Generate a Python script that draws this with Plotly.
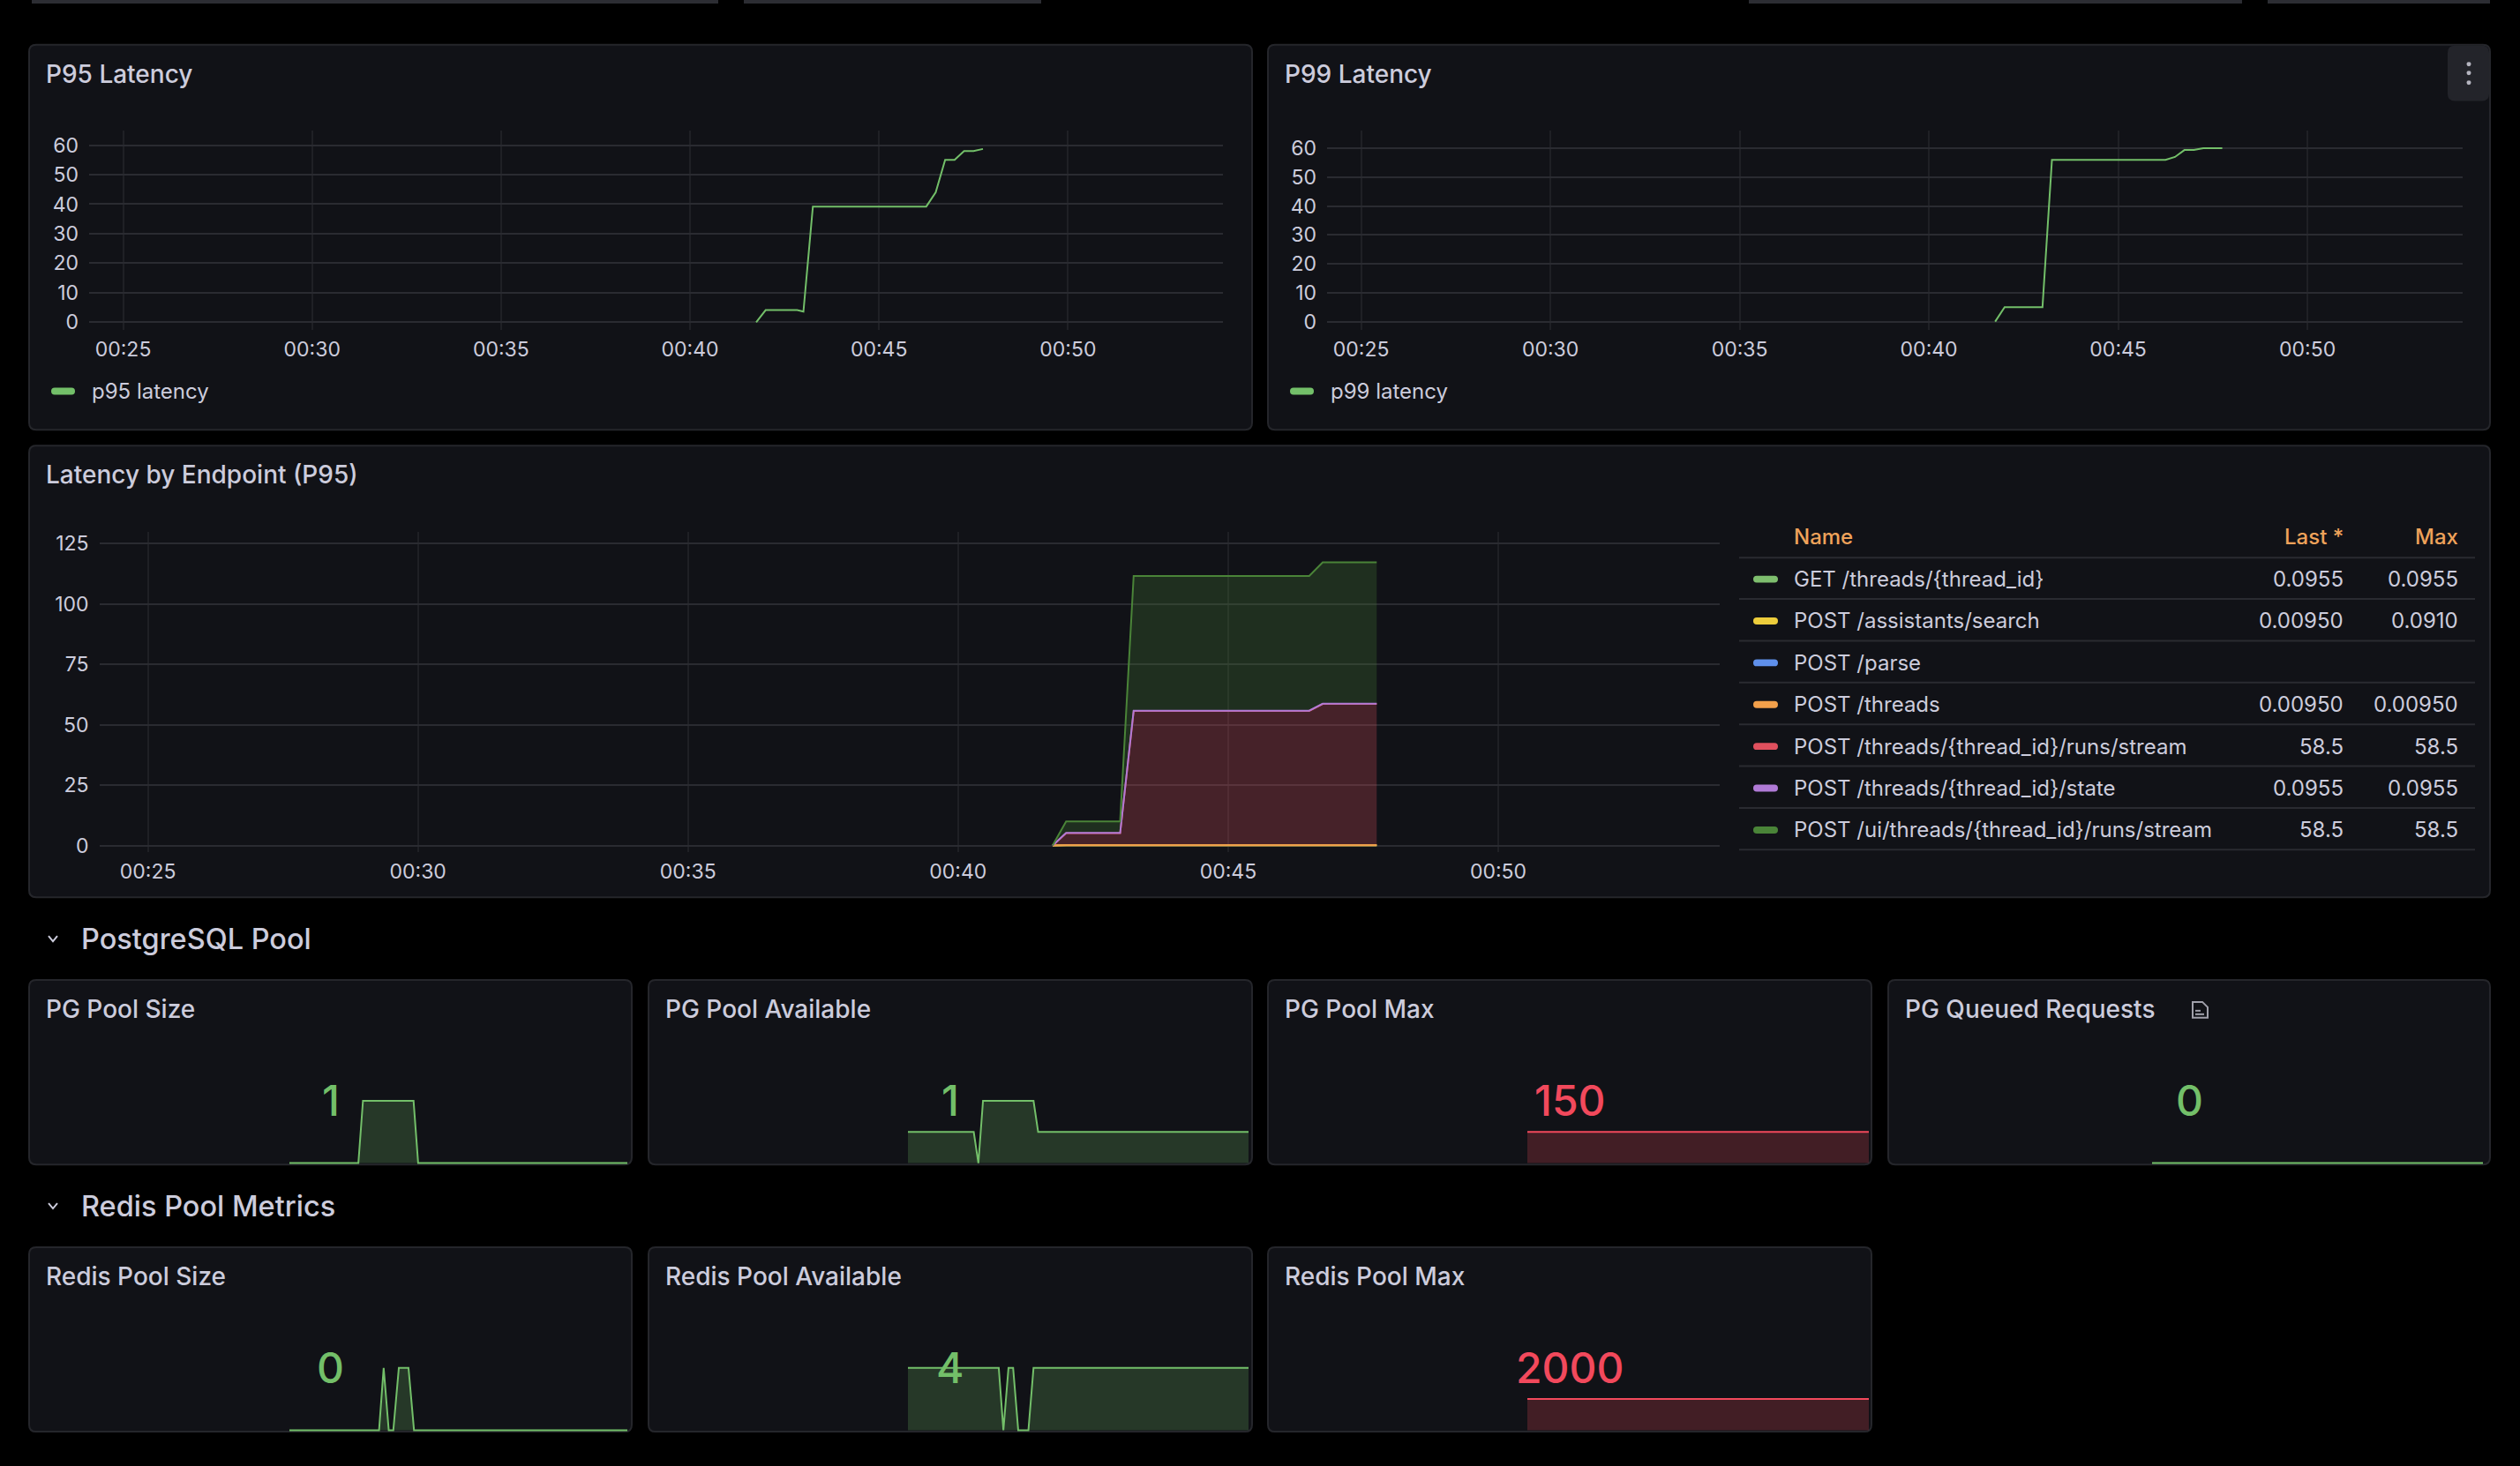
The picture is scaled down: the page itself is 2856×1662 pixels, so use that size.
import plotly.graph_objects as go

W, H = 2856, 1662
DAY = "2025-01-01 "
FONT = "Inter"
TEXT = "#ccccdc"
PANEL = "#111217"
BORDER = "#25262b"
GRID_H = "#2a2b31"
GRID_V = "#1f2025"
GREEN = "#73BF69"
RED = "#F2495C"

# ---- data ----
X_RANGE = ["00:24:06", "00:54:06"]

p95_time = ["00:41:45", "00:42:00", "00:42:50", "00:43:00", "00:43:15", "00:46:15",
            "00:46:30", "00:46:45", "00:47:00", "00:47:15", "00:47:30", "00:47:45"]
p95_value = [0, 4.1, 4.1, 3.6, 39.2, 39.2, 44, 55, 55, 58, 58, 58.7]

p99_time = ["00:41:45", "00:42:00", "00:43:00", "00:43:15", "00:46:15", "00:46:30",
            "00:46:45", "00:47:00", "00:47:15", "00:47:45"]
p99_value = [0, 5, 5, 56, 56, 57, 59.4, 59.4, 60, 60]

ep_time = ["00:41:45", "00:42:00", "00:43:00", "00:43:15", "00:46:30", "00:46:45", "00:47:45"]
ep_names = ["GET /threads/{thread_id}", "POST /assistants/search", "POST /parse", "POST /threads",
            "POST /threads/{thread_id}/runs/stream", "POST /threads/{thread_id}/state",
            "POST /ui/threads/{thread_id}/runs/stream"]
ep_colors = ["#7EBE6E", "#EDCD3C", "#5F90EC", "#F3A04B", "#E0505E", "#B07AD6", "#4A8438"]
ep_last = ["0.0955", "0.00950", "", "0.00950", "58.5", "0.0955", "58.5"]
ep_max = ["0.0955", "0.0910", "", "0.00950", "58.5", "0.0955", "58.5"]
ep_values = [
    [0, 0.0955, 0.0955, 0.0955, 0.0955, 0.0955, 0.0955],
    [0, 0.0095, 0.0095, 0.0095, 0.0095, 0.0095, 0.0095],
    None,
    [0, 0.0095, 0.0095, 0.0095, 0.0095, 0.0095, 0.0095],
    [0, 5.0, 5.0, 55.6, 55.6, 58.5, 58.5],
    [0, 0.0955, 0.0955, 0.0955, 0.0955, 0.0955, 0.0955],
    [0, 4.8, 4.8, 55.8, 55.8, 58.5, 58.5],
]

SPARK_RANGE = ["00:41:45", "00:54:00"]
pg_size_time = ["00:41:45", "00:44:15", "00:44:25", "00:46:15", "00:46:25", "00:54:00"]
pg_size_value = [0, 0, 1, 1, 0, 0]
pg_avail_time = ["00:41:45", "00:44:07", "00:44:17", "00:44:27", "00:46:16", "00:46:26", "00:54:00"]
pg_avail_value = [0.5, 0.5, 0, 1, 1, 0.5, 0.5]
pg_max_time = ["00:41:45", "00:54:00"]
pg_max_value = [150, 150]
pg_queued_time = ["00:41:45", "00:54:00"]
pg_queued_value = [0, 0]
redis_size_time = ["00:41:45", "00:45:00", "00:45:10", "00:45:21", "00:45:31", "00:45:43",
                   "00:46:04", "00:46:16", "00:54:00"]
redis_size_value = [0, 0, 1, 0, 0, 1, 1, 0, 0]
redis_avail_time = ["00:41:45", "00:45:01", "00:45:11", "00:45:22", "00:45:32", "00:45:43",
                    "00:46:05", "00:46:16", "00:54:00"]
redis_avail_value = [4, 4, 0, 4, 4, 0, 0, 4, 4]
redis_max_time = ["00:41:45", "00:54:00"]
redis_max_value = [2000, 2000]

stat_titles = ["PG Pool Size", "PG Pool Available", "PG Pool Max", "PG Queued Requests",
               "Redis Pool Size", "Redis Pool Available", "Redis Pool Max"]
stat_values = ["1", "1", "150", "0", "0", "4", "2000"]
stat_colors = [GREEN, GREEN, RED, GREEN, GREEN, GREEN, RED]
stat_top = [1, 1, 300, 1, 1, 4, 4000]  # value drawn at the top of each sparkline
stat_series = [(pg_size_time, pg_size_value), (pg_avail_time, pg_avail_value),
               (pg_max_time, pg_max_value), (pg_queued_time, pg_queued_value),
               (redis_size_time, redis_size_value), (redis_avail_time, redis_avail_value),
               (redis_max_time, redis_max_value)]


def X(px):
    return px / W


def Y(py):
    return 1 - py / H


def t(s):
    return DAY + s


def rgba(hex_color, a):
    h = hex_color.lstrip("#")
    return f"rgba({int(h[0:2], 16)},{int(h[2:4], 16)},{int(h[4:6], 16)},{a})"


def rrect(x0, y0, x1, y1, r):
    return (f"M {X(x0 + r)},{Y(y0)} L {X(x1 - r)},{Y(y0)} Q {X(x1)},{Y(y0)} {X(x1)},{Y(y0 + r)} "
            f"L {X(x1)},{Y(y1 - r)} Q {X(x1)},{Y(y1)} {X(x1 - r)},{Y(y1)} "
            f"L {X(x0 + r)},{Y(y1)} Q {X(x0)},{Y(y1)} {X(x0)},{Y(y1 - r)} "
            f"L {X(x0)},{Y(y0 + r)} Q {X(x0)},{Y(y0)} {X(x0 + r)},{Y(y0)} Z")


def label(x, y, text, size=24, color=TEXT, anchor="left", weight=400):
    return dict(x=X(x), y=Y(y), xref="paper", yref="paper", text=text, showarrow=False,
                xanchor=anchor, yanchor="middle",
                font=dict(family=FONT, size=size, color=color, weight=weight))


shapes = []
annotations = []

# thin bits of the controls above the panels
for x0, x1 in [(36, 814), (843, 1180), (1982, 2541), (2570, 2822)]:
    shapes.append(dict(type="rect", xref="paper", yref="paper", x0=X(x0), x1=X(x1), y0=Y(4), y1=Y(0),
                       fillcolor="#2c2d33", line_width=0, layer="below"))

# panels
panels = [(33, 51, 1419, 489, "P95 Latency"), (1437, 51, 2822, 489, "P99 Latency"),
          (33, 507, 2822, 1021, "Latency by Endpoint (P95)")]
stat_boxes = [(33, 1115, 716, 1325), (735, 1115, 1419, 1325), (1437, 1115, 2121, 1325),
              (2140, 1115, 2822, 1325), (33, 1419, 716, 1629), (735, 1419, 1419, 1629),
              (1437, 1419, 2121, 1629)]
for i, b in enumerate(stat_boxes):
    panels.append(b + (stat_titles[i],))

for x0, y0, x1, y1, title in panels:
    shapes.append(dict(type="path", xref="paper", yref="paper", path=rrect(x0, y0, x1, y1, 8),
                       fillcolor=PANEL, line=dict(color=BORDER, width=2), layer="below"))
    annotations.append(label(x0 + 17, y0 + 33, title, size=28, weight=500))

# P99 menu button
shapes.append(dict(type="path", xref="paper", yref="paper", path=rrect(2774, 52, 2821, 115, 8),
                   fillcolor="#23242a", line_width=0, layer="below"))
for dy in [73, 83, 94]:
    shapes.append(dict(type="circle", xref="paper", yref="paper", x0=X(2795.5), x1=X(2800.5),
                       y0=Y(dy + 2.5), y1=Y(dy - 2.5), fillcolor="#b5b5c0", line_width=0))

# description icon next to PG Queued Requests
shapes.append(dict(type="path", xref="paper", yref="paper",
                   path=(f"M {X(2485)},{Y(1140)} L {X(2496)},{Y(1140)} L {X(2502)},{Y(1146)} "
                         f"L {X(2502)},{Y(1158)} L {X(2485)},{Y(1158)} Z"),
                   line=dict(color="#a0a0aa", width=2)))
for yy, xe in [(1150, 2494), (1154, 2498)]:
    shapes.append(dict(type="line", xref="paper", yref="paper", x0=X(2488), x1=X(xe), y0=Y(yy), y1=Y(yy),
                       line=dict(color="#a0a0aa", width=2)))

# row headers
for y, text in [(1068, "PostgreSQL Pool"), (1372, "Redis Pool Metrics")]:
    shapes.append(dict(type="path", xref="paper", yref="paper",
                       path=f"M {X(55)},{Y(y - 3)} L {X(60)},{Y(y + 3)} L {X(65)},{Y(y - 3)}",
                       line=dict(color=TEXT, width=2)))
    annotations.append(label(90, y, text, size=32.5, weight=500))

# legends of the two latency panels
for x0, text in [(58, "p95 latency"), (1462, "p99 latency")]:
    shapes.append(dict(type="path", xref="paper", yref="paper", path=rrect(x0, 441, x0 + 27, 449, 4),
                       fillcolor=GREEN, line_width=0))
    annotations.append(label(x0 + 44, 445, text))

# legend table of the endpoint panel
row0, row_h = 659, 47.55
annotations.append(label(2031, 611, "Name", color="#EFA25A", weight=500))
annotations.append(label(2658, 611, "Last *", color="#EFA25A", anchor="right", weight=500))
annotations.append(label(2788, 611, "Max", color="#EFA25A", anchor="right", weight=500))
shapes.append(dict(type="line", xref="paper", yref="paper", x0=X(1971), x1=X(2805), y0=Y(634.5), y1=Y(634.5),
                   line=dict(color="#2a2b31", width=2)))
for i, name in enumerate(ep_names):
    yc = row0 + i * row_h
    shapes.append(dict(type="path", xref="paper", yref="paper", path=rrect(1987, yc - 4, 2015, yc + 4, 4),
                       fillcolor=ep_colors[i], line_width=0))
    annotations.append(label(2031, yc, name))
    annotations.append(label(2658, yc, ep_last[i], anchor="right"))
    annotations.append(label(2788, yc, ep_max[i], anchor="right"))
    shapes.append(dict(type="line", xref="paper", yref="paper", x0=X(1971), x1=X(2805),
                       y0=Y(yc + 22.5), y1=Y(yc + 22.5), line=dict(color="#2a2b31", width=2)))

# ---- traces ----
fig = go.Figure()
fig.add_trace(go.Scatter(x=[t(s) for s in p95_time], y=p95_value, mode="lines",
                         line=dict(color=GREEN, width=2), xaxis="x", yaxis="y"))
fig.add_trace(go.Scatter(x=[t(s) for s in p99_time], y=p99_value, mode="lines",
                         line=dict(color=GREEN, width=2), xaxis="x2", yaxis="y2"))
for i, vals in enumerate(ep_values):
    if vals is None:
        continue
    fig.add_trace(go.Scatter(x=[t(s) for s in ep_time], y=vals, mode="lines", stackgroup="ep",
                             line=dict(color=ep_colors[i], width=2), fillcolor=rgba(ep_colors[i], 0.26),
                             xaxis="x3", yaxis="y3"))

spark_x = [(328, 711), (1029, 1415), (1731, 2118), (2439, 2814), (328, 711), (1029, 1415), (1731, 2118)]
spark_base = [1323.4, 1323.4, 1323.4, 1323.4, 1627.3, 1627.3, 1627.3]
for i, (times, vals) in enumerate(stat_series):
    n = i + 4
    c = stat_colors[i]
    fig.add_trace(go.Scatter(x=[t(s) for s in times], y=vals, mode="lines",
                             line=dict(color=c, width=2), fill="tozeroy", fillcolor=rgba(c, 0.22),
                             xaxis=f"x{n}", yaxis=f"y{n}"))

tick_font = dict(family=FONT, size=23, color=TEXT)


def time_axes(x0, x1, y_top, y_bot, yrange, dtick, anchor):
    xa = dict(domain=[X(x0), X(x1)], range=[t(X_RANGE[0]), t(X_RANGE[1])], type="date",
              tickformat="%H:%M", dtick=300000, tick0=t("00:00:00"), showgrid=True, gridcolor=GRID_V,
              gridwidth=1.5, zeroline=False, showline=False, ticks="", tickfont=tick_font,
              ticklabelstandoff=6, anchor="y" + anchor)
    ya = dict(domain=[Y(y_bot), Y(y_top)], range=yrange, dtick=dtick, showgrid=True, gridcolor=GRID_H,
              gridwidth=2, zeroline=False, showline=False, ticks="", tickfont=tick_font,
              ticklabelstandoff=11, anchor="x" + anchor)
    return xa, ya


layout = {}
layout["xaxis"], layout["yaxis"] = time_axes(101, 1386, 149, 375, [-2.49, 64.8], 10, "")
layout["xaxis2"], layout["yaxis2"] = time_axes(1504, 2791, 149, 375, [-2.74, 66], 10, "2")
layout["xaxis3"], layout["yaxis3"] = time_axes(112.5, 1949, 605, 970, [-2.9, 129.9], 25, "3")

for i in range(len(stat_series)):
    n = i + 4
    base = spark_base[i]
    top = stat_top[i]
    layout[f"xaxis{n}"] = dict(domain=[X(spark_x[i][0]), X(spark_x[i][1])],
                               range=[t(SPARK_RANGE[0]), t(SPARK_RANGE[1])], type="date",
                               visible=False, anchor=f"y{n}")
    layout[f"yaxis{n}"] = dict(domain=[Y(base + 1.6), Y(base - 83)],
                               range=[-1.6 / 70.9 * top, 83 / 70.9 * top], visible=False, anchor=f"x{n}")
    x0, y0, x1, y1 = stat_boxes[i]
    annotations.append(label((x0 + x1) / 2, y0 + 137, stat_values[i], size=48,
                             color=stat_colors[i], anchor="center", weight=500))

fig.update_layout(
    width=W,
    height=H,
    margin=dict(l=0, r=0, t=0, b=0),
    paper_bgcolor="#000000",
    plot_bgcolor="rgba(0,0,0,0)",
    showlegend=False,
    font=dict(family=FONT, color=TEXT),
    shapes=shapes,
    annotations=annotations,
    **layout
)

# no page margin and no extra space under the figure
page_fix = ("document.documentElement.style.overflow='hidden';"
            "document.body.style.margin='0';document.body.style.background='#000';"
            "document.body.style.height='1662px';document.body.style.overflow='hidden';")
fig.write_html("out.html", config={"displayModeBar": False}, post_script=page_fix)
